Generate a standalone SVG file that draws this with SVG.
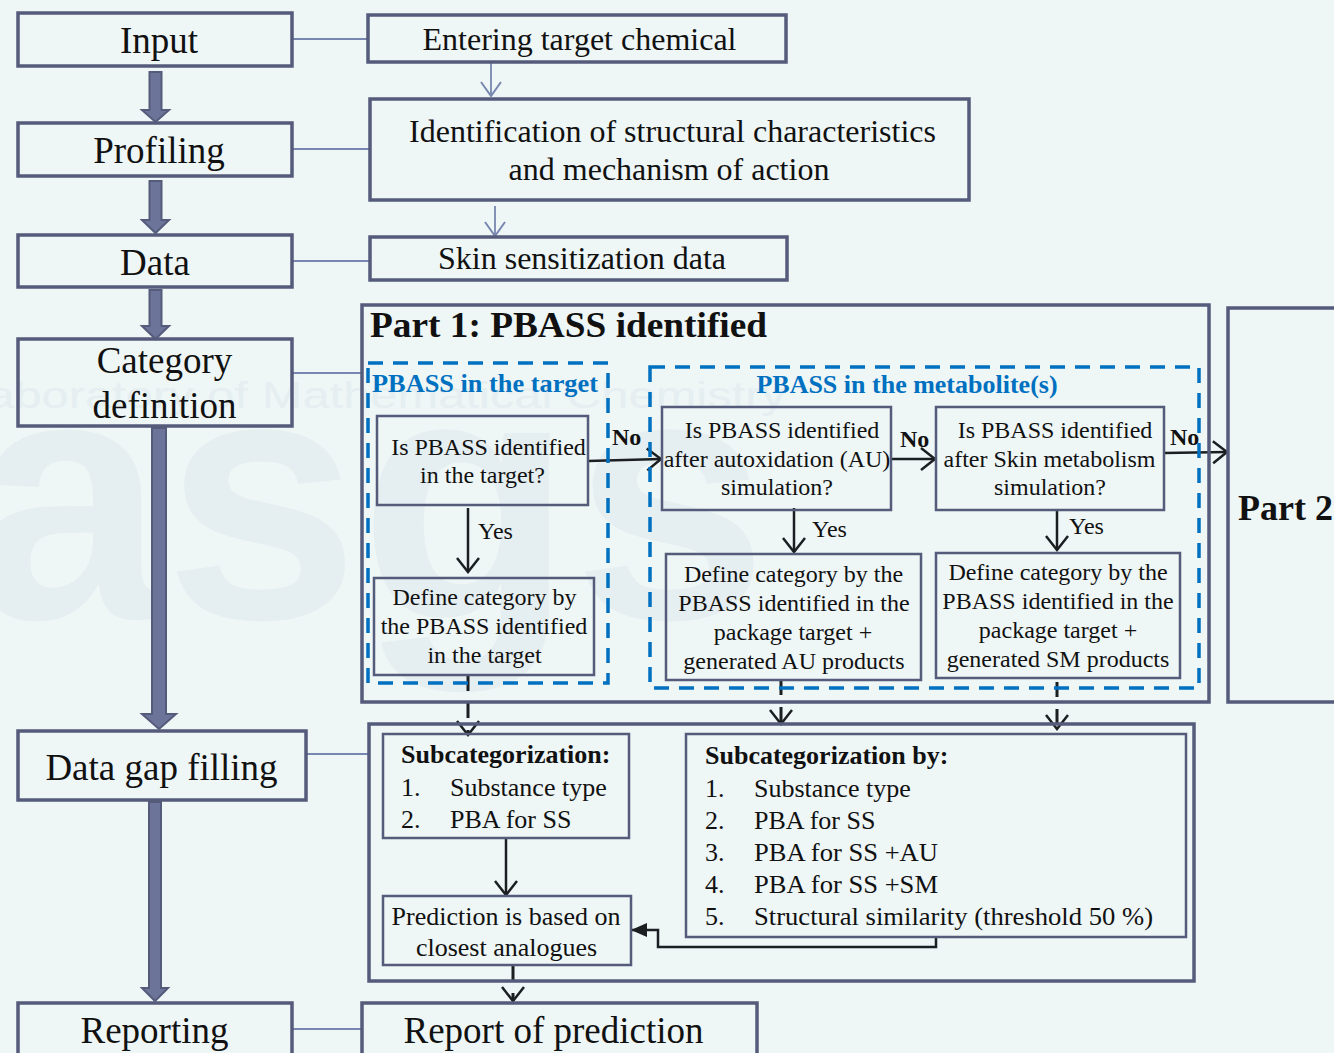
<svg xmlns="http://www.w3.org/2000/svg" width="1334" height="1053" viewBox="0 0 1334 1053">
<defs>
<style>
.bg{fill:#eef6f6}
.wm{fill:#e5eef0;font-family:"Liberation Sans",Arial,sans-serif}
.box{fill:none;stroke:#555b7a;stroke-width:3.5}
.ibox{fill:none;stroke:#555b7a;stroke-width:2.5}
.dash{fill:none;stroke:#0070c0;stroke-width:3.5;stroke-dasharray:15 10}
.t{font-family:"Liberation Serif","Times New Roman",serif;fill:#111}
.big{font-size:37px;text-anchor:middle}
.med{font-size:32px;text-anchor:middle}
.sm{font-size:24px;text-anchor:middle}
.li{font-size:26px}
.b{font-weight:bold}
.blue{fill:#0070c0;font-weight:bold;font-size:26px;font-family:"Liberation Serif","Times New Roman",serif}
.thick{fill:#6c7599;stroke:#555b7a;stroke-width:2}
.thin{fill:none;stroke:#7787b0;stroke-width:1.8}
.ar{fill:none;stroke:#1b1f22;stroke-width:2.5}
.dar{fill:none;stroke:#1b1f22;stroke-width:3;stroke-dasharray:15 12}
</style>
<marker id="ao" markerUnits="userSpaceOnUse" markerWidth="18" markerHeight="26" viewBox="0 0 18 26" refX="16" refY="13" orient="auto">
<path d="M2,2 L16,13 L2,24" fill="none" stroke="#1b1f22" stroke-width="2.5"/>
</marker>
<marker id="ag" markerUnits="userSpaceOnUse" markerWidth="16" markerHeight="24" viewBox="0 0 16 24" refX="15" refY="12" orient="auto">
<path d="M1,2 L15,12 L1,22" fill="none" stroke="#7787b0" stroke-width="2"/>
</marker>
<marker id="af" markerUnits="userSpaceOnUse" markerWidth="16" markerHeight="16" viewBox="0 0 16 16" refX="15" refY="8" orient="auto">
<path d="M0,1 L16,8 L0,15 Z" fill="#1b1f22"/>
</marker>
</defs>
<rect class="bg" x="0" y="0" width="1334" height="1053"/>
<g id="watermark">
<text class="wm" x="-30" y="618" font-size="350" font-weight="bold">asgs</text>
<text class="wm" x="-40" y="408" font-size="36" textLength="826" lengthAdjust="spacingAndGlyphs">Laboratory of Mathematical Chemistry</text>
</g>

<g id="connectors">
<path class="thick" d="M149.5,72 H161.5 V110 H169 L155.5,122 L142,110 H149.5 Z"/>
<path class="thick" d="M149.5,181 H161.5 V220 H169 L155.5,233 L142,220 H149.5 Z"/>
<path class="thick" d="M149.5,290 H161.5 V326 H169 L155.5,339 L142,326 H149.5 Z"/>
<path class="thick" d="M152,428 H166 V714 H176 L159,729 L142,714 H152 Z"/>
<path class="thick" d="M149,802 H161 V988 H168 L155,1001 L142,988 H149 Z"/>
<line class="thin" x1="292" y1="39" x2="368" y2="39"/>
<line class="thin" x1="292" y1="149" x2="370" y2="149"/>
<line class="thin" x1="292" y1="261" x2="370" y2="261"/>
<line class="thin" x1="292" y1="373" x2="362" y2="373"/>
<line class="thin" x1="306" y1="754" x2="369" y2="754"/>
<line class="thin" x1="292" y1="1029" x2="362" y2="1029"/>
<line class="thin" x1="491" y1="62" x2="491" y2="96" marker-end="url(#ag)"/>
<line class="thin" x1="495" y1="206" x2="495" y2="236" marker-end="url(#ag)"/>
<line class="ar" x1="588" y1="461" x2="661" y2="459" marker-end="url(#ao)"/>
<line class="ar" x1="891" y1="459" x2="935" y2="459" marker-end="url(#ao)"/>
<line class="ar" x1="1164" y1="453" x2="1227" y2="452" marker-end="url(#ao)"/>
<line class="ar" x1="468" y1="508" x2="468" y2="572" marker-end="url(#ao)"/>
<line class="ar" x1="794" y1="508" x2="794" y2="552" marker-end="url(#ao)"/>
<line class="ar" x1="1057" y1="511" x2="1057" y2="550" marker-end="url(#ao)"/>
<line class="dar" x1="468" y1="676" x2="468" y2="735" marker-end="url(#ao)"/>
<line class="dar" x1="781" y1="680" x2="781" y2="724" marker-end="url(#ao)"/>
<line class="dar" x1="1057" y1="682" x2="1057" y2="729" marker-end="url(#ao)"/>
<line class="ar" x1="506" y1="838" x2="506" y2="895" marker-end="url(#ao)"/>
<path class="ar" d="M936,937 V947 H658 V930 H632" marker-end="url(#af)"/>
<line class="dar" x1="513" y1="966" x2="513" y2="1001" marker-end="url(#ao)"/>
</g>

<g id="input"><rect class="box" x="18" y="13" width="274" height="53"/><text class="t big" x="159" y="53">Input</text></g>
<g id="profiling"><rect class="box" x="18" y="123" width="274" height="53"/><text class="t big" x="159" y="163">Profiling</text></g>
<g id="data"><rect class="box" x="18" y="235" width="274" height="52"/><text class="t big" x="155" y="275">Data</text></g>
<g id="category"><rect class="box" x="18" y="339" width="274" height="87"/><text class="t big" x="164.5" y="373">Category</text><text class="t big" x="164.5" y="418">definition</text></g>
<g id="datagap"><rect class="box" x="18" y="731" width="288" height="69"/><text class="t big" x="161.5" y="780">Data gap filling</text></g>
<g id="reporting"><rect class="box" x="18" y="1003" width="274" height="60"/><text class="t big" x="154.5" y="1043">Reporting</text></g>

<g id="entering"><rect class="box" x="368" y="15" width="418" height="47"/><text class="t med" x="579.5" y="50">Entering target chemical</text></g>
<g id="identification"><rect class="box" x="370" y="99" width="599" height="101"/><text class="t med" x="672.5" y="142">Identification of structural characteristics</text><text class="t med" x="669" y="180">and mechanism of action</text></g>
<g id="skin"><rect class="box" x="370" y="237" width="417" height="43"/><text class="t med" x="582" y="269">Skin sensitization data</text></g>

<g id="part1"><rect class="box" x="362" y="305" width="847" height="397"/><text class="t b" x="370" y="337" font-size="36" textLength="397" lengthAdjust="spacingAndGlyphs">Part 1: PBASS identified</text></g>
<g id="part2"><rect class="box" x="1228" y="308" width="120" height="394"/><text class="t b" x="1238" y="520" font-size="36">Part 2</text></g>

<g id="target-group"><rect class="dash" x="368" y="363" width="240" height="320"/><text class="blue" x="372" y="392" textLength="226" lengthAdjust="spacingAndGlyphs">PBASS in the target</text></g>
<g id="metabolite-group"><rect class="dash" x="650" y="367" width="549" height="321"/><text class="blue" x="907" y="393" text-anchor="middle">PBASS in the metabolite(s)</text></g>

<g id="q-target"><rect class="ibox" x="377" y="416" width="211" height="89"/><text class="t sm" x="488.5" y="455">Is PBASS identified</text><text class="t sm" x="482.5" y="483">in the target?</text></g>
<g id="d-target"><rect class="ibox" x="374" y="578" width="220" height="97"/><text class="t sm" x="484.5" y="605">Define category by</text><text class="t sm" x="484" y="634">the PBASS identified</text><text class="t sm" x="484.5" y="663">in the target</text></g>
<g id="q-au"><rect class="ibox" x="662" y="407" width="229" height="103"/><text class="t sm" x="782" y="438">Is PBASS identified</text><text class="t sm" x="777" y="467">after autoxidation (AU)</text><text class="t sm" x="777" y="495">simulation?</text></g>
<g id="q-sm"><rect class="ibox" x="936" y="407" width="228" height="103"/><text class="t sm" x="1055" y="438">Is PBASS identified</text><text class="t sm" x="1049.5" y="467">after Skin metabolism</text><text class="t sm" x="1050" y="495">simulation?</text></g>
<g id="d-au"><rect class="ibox" x="666" y="554" width="255" height="126"/><text class="t sm" x="793.5" y="582">Define category by the</text><text class="t sm" x="794" y="611">PBASS identified in the</text><text class="t sm" x="793" y="640">package target +</text><text class="t sm" x="794" y="669">generated AU products</text></g>
<g id="d-sm"><rect class="ibox" x="936" y="553" width="244" height="125"/><text class="t sm" x="1058" y="580">Define category by the</text><text class="t sm" x="1058" y="609">PBASS identified in the</text><text class="t sm" x="1058" y="638">package target +</text><text class="t sm" x="1058" y="667">generated SM products</text></g>

<g id="labels">
<text class="t b" x="612" y="445" font-size="24">No</text>
<text class="t b" x="900" y="447" font-size="24">No</text>
<text class="t b" x="1170" y="445" font-size="24">No</text>
<text class="t" x="478" y="539" font-size="24">Yes</text>
<text class="t" x="812" y="537" font-size="24">Yes</text>
<text class="t" x="1069" y="534" font-size="24">Yes</text>
</g>

<g id="gapfill-box"><rect class="box" x="369" y="724" width="825" height="257"/></g>
<g id="subcat1"><rect class="ibox" x="383" y="734" width="246" height="104"/>
<text class="t b li" x="401" y="763">Subcategorization:</text>
<text class="t li" x="401" y="796">1.</text><text class="t li" x="450" y="796">Substance type</text>
<text class="t li" x="401" y="828">2.</text><text class="t li" x="450" y="828">PBA for SS</text></g>
<g id="prediction"><rect class="ibox" x="383" y="896" width="248" height="69"/><text class="t li" x="506" y="925" text-anchor="middle">Prediction is based on</text><text class="t li" x="506.5" y="956" text-anchor="middle">closest analogues</text></g>
<g id="subcat2"><rect class="ibox" x="686" y="734" width="500" height="203"/>
<text class="t b li" x="705" y="764">Subcategorization by:</text>
<text class="t li" x="705" y="797">1.</text><text class="t li" x="754" y="797">Substance type</text>
<text class="t li" x="705" y="829">2.</text><text class="t li" x="754" y="829">PBA for SS</text>
<text class="t li" x="705" y="861">3.</text><text class="t li" x="754" y="861" textLength="184" lengthAdjust="spacingAndGlyphs">PBA for SS +AU</text>
<text class="t li" x="705" y="893">4.</text><text class="t li" x="754" y="893" textLength="184" lengthAdjust="spacingAndGlyphs">PBA for SS +SM</text>
<text class="t li" x="705" y="925">5.</text><text class="t li" x="754" y="925" textLength="399" lengthAdjust="spacingAndGlyphs">Structural similarity (threshold 50 %)</text></g>
<g id="report"><rect class="box" x="362" y="1003" width="395" height="60"/><text class="t big" x="553.5" y="1043">Report of prediction</text></g>
</svg>
